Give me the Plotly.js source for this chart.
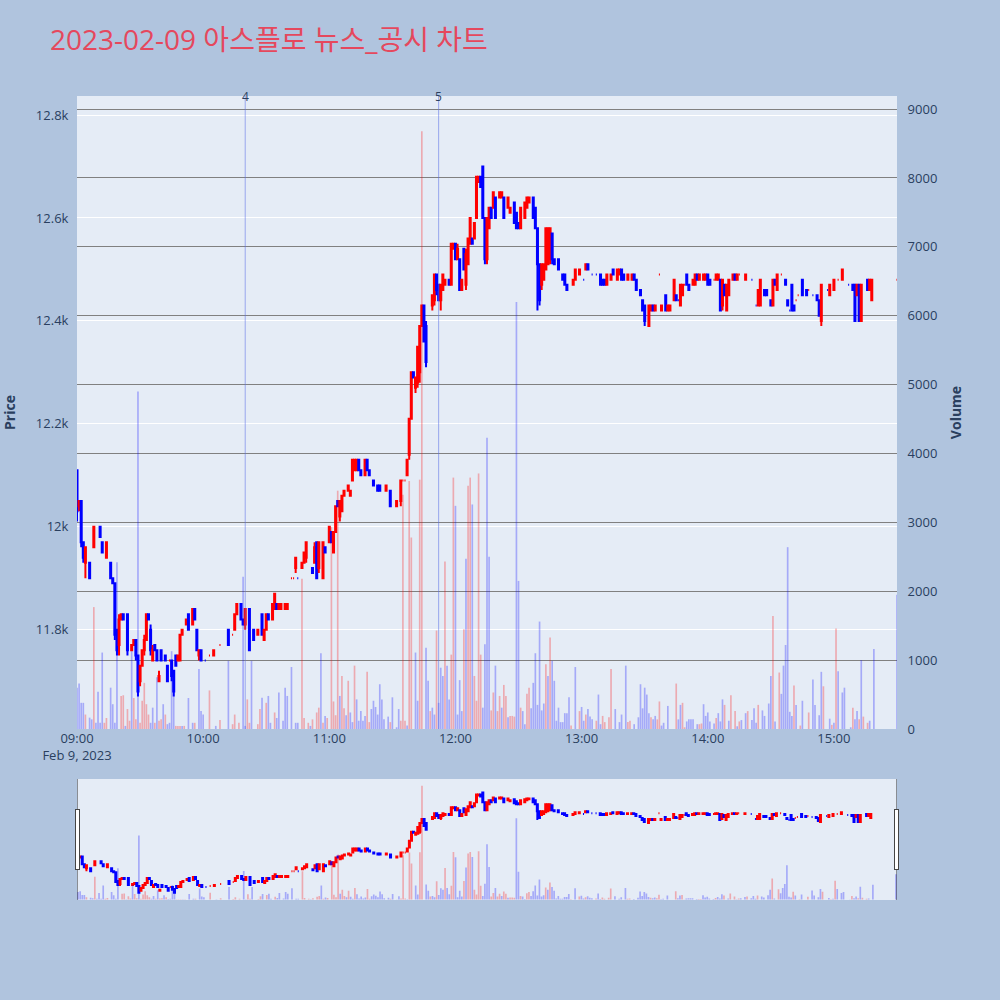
<!DOCTYPE html>
<html>
<head>
<meta charset="utf-8">
<script src="https://cdn.plot.ly/plotly-3.0.1.min.js"></script>
<style>
  body { margin: 0; background: #b0c4de; }
  #chart { width: 1000px; height: 1000px; }
</style>
</head>
<body>
<div id="chart"></div>
<script>
// minute candles, minutes counted from 09:00
const candleMins = [
  0,1,2,3,4,6,8,11,12,14,16,17,18,19,20,21,22,24,26,27,28,29,30,31,32,33,34,35,36,37,38,39,40,42,43,44,45,46,47,48,49,50,52,53,55,56,57,58,59,
  61,63,65,68,72,74,75,76,78,79,80,82,84,86,88,89,90,91,93,94,95,96,97,99,100,102,103,104,105,107,108,109,112,113,114,115,117,118,120,121,122,123,124,125,126,127,129,130,
  131,132,133,134,135,137,138,139,141,143,144,147,149,152,154,155,156,157,158,159,160,161,162,163,164,165,166,169,170,171,172,173,174,175,177,178,179,180,181,182,183,184,185,186,187,188,189,190,191,192,193,194,195,196,197,198,199,201,202,
  203,205,206,208,209,210,211,213,214,215,217,218,219,220,221,222,223,224,225,226,227,229,231,232,233,236,237,239,241,242,243,245,247,249,250,251,252,254,255,257,258,259,260,262,264,265,266,268,269,270,
  272,273,274,275,277,278,280,281,282,284,285,286,287,288,289,290,291,293,294,295,296,298,299,300,301,303,304,305,306,307,308,309,310,312,313,314,315,318,321,323,324,325,327,328,330,331,332,333,335,337,338,339,340,341,342,343,345,347,348,350,352,353,354,357,358,360,362,364,367,369,370,371,372,373,376,377,378,390
];
const opens = [
  12110,12040,12050,11970,11930,11930,11960,12000,11970,11940,11930,11900,11890,11800,11770,11820,11830,11830,11760,11770,11780,11750,11700,11730,11760,11780,11830,11800,11740,11770,11760,11700,11760,11750,11730,11740,11740,11720,11750,11740,11740,11790,11810,11830,11810,11840,11800,11750,11760,
  11740,11750,11750,11770,11800,11790,11800,11830,11850,11820,11810,11840,11800,11790,11830,11780,11800,11830,11820,11840,11850,11840,11840,11840,11840,11900,11900,11920,11900,11920,11930,11940,11920,11930,11970,11920,11900,11960,11970,11990,11950,11990,12050,12020,12030,12060,12070,12060,
  12090,12110,12110,12130,12110,12100,12130,12110,12090,12080,12080,12070,12070,12040,12050,12090,12090,12100,12140,12210,12300,12270,12280,12300,12390,12430,12390,12430,12440,12490,12470,12440,12460,12470,12480,12470,12540,12550,12520,12520,12460,12540,12470,12510,12550,12560,12560,12600,12670,12680,12700,12600,12520,12580,12620,12620,12640,12640,12640,
  12640,12620,12610,12630,12610,12590,12580,12600,12620,12630,12640,12620,12580,12510,12470,12480,12500,12510,12520,12570,12520,12520,12490,12490,12470,12470,12480,12490,12480,12500,12510,12490,12490,12490,12480,12480,12470,12480,12500,12480,12490,12500,12490,12480,12480,12490,12480,12460,12440,12430,
  12390,12420,12430,12420,12490,12420,12450,12420,12420,12440,12450,12440,12430,12450,12470,12490,12470,12470,12470,12490,12480,12480,12480,12490,12480,12480,12480,12480,12480,12430,12470,12420,12450,12480,12490,12480,12490,12480,12480,12430,12430,12430,12460,12460,12440,12430,12480,12460,12490,12480,12440,12420,12470,12430,12440,12450,12480,12460,12460,12450,12450,12440,12400,12460,12450,12460,12480,12480,12470,12470,12470,12450,12470,12400,12480,12460,12440,12480
];
const highs = [
  12110,12050,12050,11970,11960,11930,12000,12000,11970,11970,11930,11900,11890,11800,11830,11830,11830,11830,11770,11780,11780,11750,11730,11760,11790,11830,11830,11810,11770,11770,11760,11720,11760,11750,11730,11740,11740,11720,11750,11750,11790,11800,11820,11830,11840,11840,11800,11760,11760,
  11740,11750,11760,11770,11800,11790,11830,11850,11850,11820,11840,11840,11800,11800,11830,11800,11830,11830,11850,11870,11850,11850,11850,11850,11850,11900,11900,11940,11900,11930,11950,11970,11920,11970,11970,11970,11970,11960,12000,11990,11990,12040,12050,12050,12060,12070,12080,12070,
  12130,12130,12130,12130,12110,12130,12130,12110,12090,12080,12080,12080,12070,12050,12090,12090,12090,12130,12210,12300,12300,12290,12350,12390,12430,12430,12400,12450,12490,12490,12470,12470,12490,12480,12480,12550,12550,12550,12550,12520,12480,12540,12540,12560,12600,12560,12590,12680,12680,12680,12700,12600,12600,12620,12620,12650,12640,12650,12650,
  12640,12640,12620,12630,12610,12590,12620,12630,12640,12640,12640,12620,12580,12510,12510,12510,12580,12580,12580,12570,12520,12520,12490,12490,12470,12480,12500,12500,12480,12510,12510,12490,12490,12490,12480,12480,12490,12490,12500,12500,12500,12500,12490,12490,12490,12490,12480,12460,12440,12430,
  12430,12430,12430,12430,12490,12430,12450,12430,12430,12480,12450,12440,12470,12470,12470,12490,12470,12480,12490,12490,12490,12490,12490,12490,12480,12480,12490,12490,12480,12480,12470,12470,12480,12490,12490,12490,12490,12490,12480,12430,12460,12480,12460,12460,12440,12480,12480,12490,12490,12480,12440,12420,12470,12430,12440,12450,12480,12460,12460,12450,12450,12440,12470,12460,12470,12480,12480,12500,12470,12470,12470,12470,12470,12470,12480,12480,12480,12480
];
const lows = [
  12010,12030,11960,11930,11900,11900,11960,11980,11950,11940,11900,11890,11780,11750,11750,11820,11820,11750,11760,11770,11740,11670,11690,11730,11750,11780,11820,11750,11740,11760,11740,11700,11740,11740,11700,11740,11700,11670,11730,11740,11740,11790,11810,11800,11810,11820,11760,11740,11740,
  11740,11750,11750,11770,11770,11790,11800,11830,11820,11810,11800,11760,11780,11790,11790,11780,11800,11820,11820,11840,11840,11840,11840,11840,11840,11900,11900,11910,11900,11920,11930,11930,11910,11930,11900,11910,11900,11950,11970,11970,11950,11990,12040,12010,12030,12060,12070,12060,
  12090,12110,12110,12110,12100,12100,12110,12100,12080,12070,12070,12070,12040,12040,12040,12090,12090,12100,12130,12210,12290,12260,12270,12280,12390,12360,12310,12420,12430,12450,12440,12420,12460,12470,12470,12470,12540,12520,12520,12460,12460,12500,12460,12510,12550,12550,12560,12600,12670,12660,12600,12510,12510,12580,12600,12620,12600,12640,12640,
  12600,12620,12610,12590,12580,12580,12580,12600,12620,12630,12600,12580,12420,12430,12460,12480,12500,12510,12510,12510,12510,12500,12480,12470,12460,12470,12480,12490,12480,12500,12500,12490,12490,12470,12470,12470,12470,12480,12490,12480,12490,12480,12480,12480,12480,12480,12460,12450,12420,12390,
  12390,12420,12420,12420,12490,12420,12420,12420,12420,12440,12440,12440,12430,12450,12470,12470,12460,12470,12470,12480,12480,12480,12480,12470,12470,12480,12480,12480,12420,12420,12450,12420,12450,12480,12480,12480,12490,12480,12480,12430,12430,12430,12450,12450,12430,12430,12470,12460,12490,12470,12430,12420,12420,12420,12440,12450,12450,12450,12460,12450,12440,12410,12390,12460,12450,12460,12480,12480,12470,12460,12400,12450,12400,12400,12460,12460,12440,12480
];
const closes = [
  12030,12050,11970,11940,11960,11900,12000,11980,11950,11970,11900,11890,11790,11760,11820,11830,11820,11760,11770,11780,11750,11680,11730,11760,11780,11830,11820,11760,11760,11760,11740,11710,11740,11740,11700,11740,11710,11680,11730,11750,11790,11800,11820,11800,11840,11820,11760,11760,11740,
  11740,11750,11760,11770,11770,11790,11830,11850,11820,11810,11840,11760,11780,11800,11790,11800,11830,11820,11850,11870,11840,11850,11850,11850,11850,11900,11900,11940,11900,11930,11950,11970,11910,11960,11900,11970,11970,11950,12000,11970,11990,12040,12040,12050,12060,12070,12080,12070,
  12130,12130,12130,12110,12100,12130,12110,12100,12080,12070,12070,12080,12040,12050,12090,12090,12090,12130,12210,12300,12290,12290,12350,12390,12430,12360,12320,12450,12490,12460,12440,12470,12490,12480,12470,12550,12550,12520,12540,12460,12480,12500,12530,12560,12600,12550,12590,12680,12680,12660,12600,12520,12600,12620,12600,12650,12600,12650,12650,
  12600,12640,12620,12590,12580,12580,12620,12630,12640,12640,12600,12580,12510,12440,12510,12510,12580,12580,12580,12520,12510,12500,12480,12470,12460,12480,12500,12500,12480,12510,12500,12490,12490,12470,12470,12470,12490,12490,12490,12500,12500,12480,12480,12490,12490,12480,12460,12450,12420,12400,
  12430,12430,12420,12430,12490,12430,12420,12430,12430,12480,12440,12440,12470,12470,12470,12470,12460,12480,12490,12480,12490,12490,12490,12470,12470,12480,12490,12490,12420,12480,12450,12470,12480,12490,12480,12490,12490,12490,12480,12430,12460,12480,12450,12450,12430,12480,12470,12490,12490,12470,12430,12420,12420,12420,12440,12450,12450,12450,12460,12450,12440,12410,12470,12460,12470,12480,12480,12500,12470,12460,12400,12470,12400,12470,12460,12480,12480,12480
];

// per-minute volume, 1 = up bar (red), 0 = down bar (blue)
const volMins = [
  0,1,2,3,4,6,7,8,9,10, 11,12,13,14,16,17,18,19,21,22, 23,24,25,26,27,28,29,30,31,32, 33,34,35,36,37,38,39,40,41,42,
  43,44,45,46,47,48,49,50,51,53, 55,56,58,59,60,63,66,68,72,74, 75,77,79,80,81,82,83,86,87,88, 90,91,92,94,95,96,98,99,100,102,
  104,105,107,108,110,111,112,114,115,116, 117,118,119,121,122,123,124,125,126,127, 128,129,130,131,132,133,134,135,136,137, 138,139,140,141,142,143,144,145,146,148,
  149,150,152,153,154,155,156,157,158,159, 161,162,163,164,166,167,168,169,170,171, 172,173,174,175,176,177,178,179,180,181, 182,183,184,185,186,187,188,189,190,191,
  192,193,194,195,196,197,198,199,200,201, 202,203,204,205,206,207,208,209,210,211, 212,213,214,215,216,217,218,219,220,221, 222,223,224,225,226,227,228,229,230,231,
  232,233,234,235,237,239,240,241,242,243, 244,245,247,248,249,250,251,253,254,256, 258,259,261,262,263,265,267,268,269,270, 271,272,273,274,275,276,277,278,279,281,
  285,286,287,288,289,290,291,292,293,295, 296,297,298,299,300,301,303,304,305,306, 307,308,310,311,313,314,315,316,318,319, 321,322,323,324,326,327,329,330,331,332,
  334,335,336,337,338,339,340,341,342,344, 345,348,350,351,353,354,355,358,359,360, 361,362,364,365,368,369,370,371,372,373, 374,376,377,379,390
];
const volumes = [
  600,660,380,380,210,165,140,1770,90,540, 90,1110,90,160,600,360,90,2420,480,490, 45,290,120,1130,450,140,4900,90,410,670, 360,210,90,310,90,750,120,140,360,210,
  70,90,1130,760,45,45,45,45,45,450, 90,90,870,260,210,560,45,130,990,70, 210,90,2210,45,430,90,990,70,290,455, 380,480,90,240,160,530,120,600,480,900,
  90,90,2180,160,90,45,140,240,310,1100, 90,190,160,2930,400,200,3460,480,770,300, 200,700,240,100,920,430,120,260,120,190, 830,100,290,410,320,210,650,430,140,180,
  100,460,25,290,120,3400,120,50,3600,2780, 1110,410,3620,8680,1180,700,260,310,210,1430, 380,890,770,2430,920,430,1080,3650,3240,210, 710,260,1450,2470,3530,3650,3260,770,410,3710,
  1080,310,1230,4230,2500,270,530,920,260,480, 310,640,480,170,190,190,180,6200,2150,310, 260,70,510,600,300,670,1100,350,1560,270, 370,940,770,1330,990,700,120,310,100,100,
  230,230,460,50,900,260,320,120,210,290, 180,140,120,500,70,190,100,170,870,290, 100,210,920,100,120,70,170,650,300,600, 500,230,170,140,190,140,400,50,90,335,
  660,140,350,380,25,110,140,140,140,70, 70,80,360,190,240,110,80,160,230,110, 430,350,120,490,260,40,110,130,230,260, 130,300,90,350,270,190,370,770,1640,110,
  820,510,920,1220,2640,250,190,630,350,50, 410,240,720,350,200,830,620,150,60,90, 1460,840,530,600,25,310,140,260,140,1000, 180,90,120,1160,1950
];
const volUp = [
  0,0,0,0,1,0,0,1,0,0, 0,0,1,1,0,0,0,0,1,1, 0,1,1,0,1,1,0,1,1,1, 1,1,0,0,1,0,1,1,0,1,
  0,0,0,0,1,1,1,0,1,0, 0,1,0,0,0,1,0,1,0,1, 1,1,0,0,1,1,0,1,1,0, 1,0,0,1,0,0,0,0,0,0,
  0,0,1,1,1,0,1,1,1,0, 1,0,1,1,1,1,1,0,1,1, 0,1,0,0,1,0,0,0,0,0, 1,1,0,0,0,0,0,0,0,0,
  1,0,0,0,1,1,1,0,1,1, 0,0,1,1,0,0,1,0,0,1, 0,0,0,1,0,0,1,1,0,0, 0,0,1,0,1,1,0,1,1,1,
  1,0,0,0,0,1,1,0,1,1, 0,1,1,0,1,1,1,0,0,1, 0,0,1,1,0,0,0,0,0,0, 0,1,0,1,0,0,0,0,0,0,
  0,0,0,1,0,1,0,0,1,0, 0,0,1,0,0,1,1,1,1,0, 0,0,0,1,1,0,0,0,0,0, 0,0,1,0,0,1,1,0,0,0,
  1,0,0,1,1,0,0,0,0,0, 1,1,0,0,0,0,0,1,0,0, 0,1,0,1,1,0,1,0,0,1, 0,0,0,1,0,0,0,0,1,0,
  1,0,0,0,0,0,0,1,0,1, 0,1,0,0,0,0,1,0,1,0, 1,0,0,0,0,1,0,0,1,0, 1,1,0,0,0
];

// news / disclosure markers
const eventTimes = ['10:20', '11:52'];
const eventLabels = ['4', '5'];

const day = '2023-02-09';
function toTime(m) {
  const h = 9 + Math.floor(m / 60);
  const mm = m % 60;
  return day + ' ' + String(h).padStart(2, '0') + ':' + String(mm).padStart(2, '0');
}

const candles = {
  type: 'candlestick',
  x: candleMins.map(toTime),
  open: opens, high: highs, low: lows, close: closes,
  increasing: {line: {color: 'red', width: 2}, fillcolor: 'red'},
  decreasing: {line: {color: 'blue', width: 2}, fillcolor: 'blue'},
  yaxis: 'y',
  name: 'Price'
};

const volBars = {
  type: 'bar',
  x: volMins.map(toTime),
  y: volumes,
  marker: {color: volUp.map(u => u ? 'rgba(255,0,0,0.28)' : 'rgba(0,0,255,0.28)')},
  yaxis: 'y2',
  name: 'Volume'
};

const shapes = eventTimes.map(t => ({
  type: 'line', xref: 'x', yref: 'paper',
  x0: day + ' ' + t, x1: day + ' ' + t, y0: 0, y1: 1,
  line: {color: 'rgba(90,110,230,0.55)', width: 1}
}));
const annotations = eventTimes.map((t, i) => ({
  x: day + ' ' + t, xref: 'x', y: 1, yref: 'paper',
  text: eventLabels[i], showarrow: false, yanchor: 'middle',
  font: {size: 12, color: '#2a3f5f'}
}));

const layout = {
  width: 1000, height: 1000,
  paper_bgcolor: '#b0c4de',
  plot_bgcolor: '#e5ecf6',
  font: {family: 'Open Sans, Noto Sans CJK KR, sans-serif', color: '#2a3f5f', size: 13},
  title: {
    text: '2023-02-09 아스플로 뉴스_공시 차트',
    x: 0.05, xanchor: 'left', y: 0.96, yanchor: 'middle',
    font: {size: 28, color: '#e5485d'}
  },
  margin: {l: 77, r: 103, t: 96, b: 100},
  showlegend: false,
  bargap: 0.2,
  xaxis: {
    type: 'date',
    range: [day + ' 09:00', day + ' 15:30'],
    showgrid: false,
    dtick: 3600000,
    tick0: day + ' 09:00',
    rangeslider: {
      visible: true, thickness: 0.15, bgcolor: '#e5ecf6',
      yaxis: {rangemode: 'match'}, yaxis2: {rangemode: 'match'}
    }
  },
  yaxis: {
    title: {text: '<b>Price</b>', font: {size: 14}, standoff: 22},
    range: [11607, 12837],
    gridcolor: 'white',
    zeroline: false,
    ticks: 'outside', ticklen: 5, tickcolor: 'rgba(0,0,0,0)'
  },
  yaxis2: {
    title: {text: '<b>Volume</b>', font: {size: 14}, standoff: 14},
    overlaying: 'y', side: 'right',
    range: [0, 9190],
    dtick: 1000,
    showgrid: true,
    gridcolor: 'gray',
    zeroline: false,
    ticks: 'outside', ticklen: 7, tickcolor: 'rgba(0,0,0,0)'
  },
  shapes: shapes,
  annotations: annotations
};

Plotly.newPlot('chart', [candles, volBars], layout, {displayModeBar: false});
</script>
</body>
</html>
